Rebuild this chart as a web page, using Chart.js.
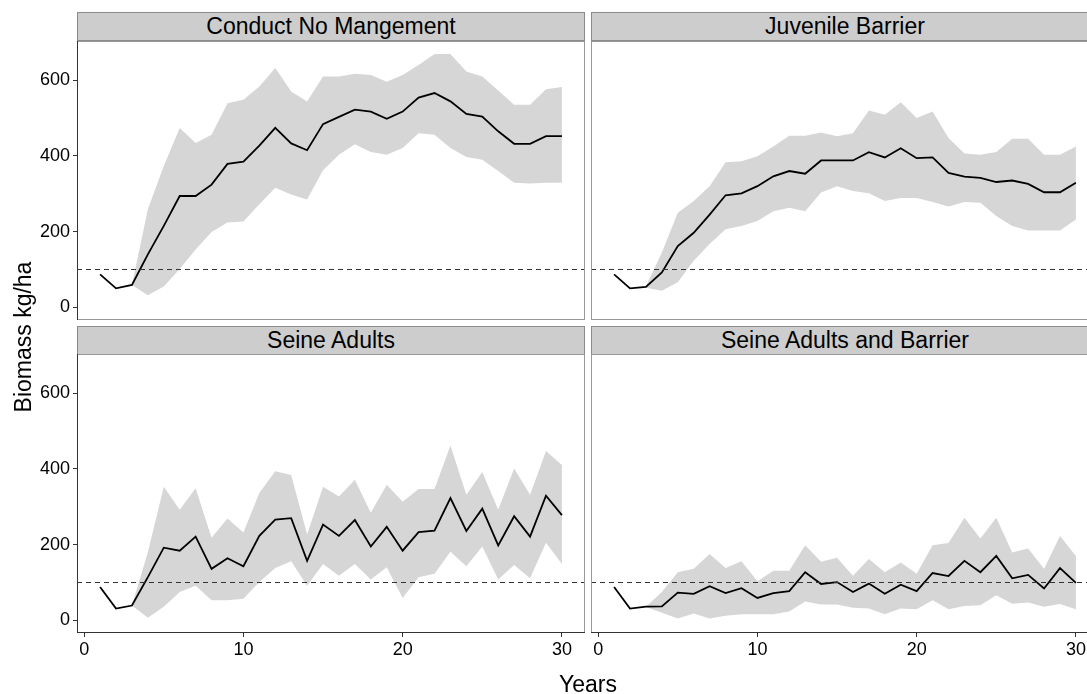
<!DOCTYPE html>
<html>
<head>
<meta charset="utf-8">
<script src="https://cdn.jsdelivr.net/npm/chart.js@4.4.1/dist/chart.umd.min.js"></script>
<style>
  html, body {
    margin: 0;
    padding: 0;
    width: 1087px;
    height: 694px;
    overflow: hidden;
    background: #fff;
    font-family: 'Liberation Sans', Arial, sans-serif;
  }
  .panel { position: absolute; }
  .strip {
    position: absolute;
    box-sizing: border-box;
    height: 29px;
    background: #cdcdcd;
    border: 1px solid #8a8a8a;
    color: #000;
    font-size: 23px;
    line-height: 27px;
    text-align: center;
    white-space: nowrap;
  }
  .axis-title {
    position: absolute;
    font-size: 23px;
    color: #000;
    text-align: center;
    white-space: nowrap;
  }
</style>
</head>
<body>
<div id="root"></div>
<div class="axis-title" style="left:488px; top:670px; width:200px; height:28px; line-height:28px;">Years</div>
<div class="axis-title" style="left:-127px; top:323px; width:300px; height:28px; line-height:28px; transform:rotate(-90deg);">Biomass kg/ha</div>

<script>
// years simulated
const years = [1, 2, 3, 4, 5, 6, 7, 8, 9, 10, 11, 12, 13, 14, 15,
  16, 17, 18, 19, 20, 21, 22, 23, 24, 25, 26, 27, 28, 29, 30];

const xTicks = [0, 10, 20, 30];
const yTicks = [0, 200, 400, 600];
const threshold = 100; // dashed reference line

const panelTitles = ['Conduct No Mangement', 'Juvenile Barrier', 'Seine Adults', 'Seine Adults and Barrier'];

// Conduct No Mangement
const noMgmtMean = [87, 50, 59, 140, 215, 294, 294, 324, 379, 385, 427, 474, 433, 415, 484,
  503, 522, 517, 498, 517, 554, 566, 544, 511, 504, 465, 432, 432, 452, 452];
const noMgmtLow = [null, null, 59, 32, 55, 101, 153, 199, 224, 227, 272, 316, 298, 285, 362,
  403, 431, 410, 403, 421, 460, 456, 421, 397, 390, 360, 329, 327, 329, 329];
const noMgmtHigh = [null, null, 59, 259, 373, 474, 434, 456, 539, 548, 583, 632, 570, 544, 610,
  610, 617, 614, 596, 614, 640, 669, 669, 623, 610, 573, 535, 535, 576, 582];

// Juvenile Barrier
const barrierMean = [87, 50, 54, 92, 162, 197, 245, 296, 301, 320, 346, 360, 353, 388, 388,
  388, 410, 396, 420, 394, 396, 355, 345, 342, 331, 335, 326, 304, 304, 329];
const barrierLow = [null, null, 52, 44, 66, 123, 167, 206, 215, 228, 254, 263, 254, 303, 320,
  307, 301, 281, 289, 289, 278, 266, 278, 276, 241, 215, 203, 203, 203, 232];
const barrierHigh = [null, null, 55, 145, 250, 281, 320, 383, 386, 399, 425, 453, 453, 462, 452,
  460, 520, 509, 542, 500, 517, 447, 406, 403, 410, 445, 445, 403, 403, 425];

// Seine Adults
const seineMean = [88, 31, 39, 114, 192, 184, 221, 136, 164, 143, 223, 266, 270, 157, 253,
  223, 265, 195, 247, 184, 233, 237, 323, 236, 295, 198, 275, 221, 329, 278];
const seineLow = [null, null, 39, 7, 36, 75, 91, 53, 53, 57, 101, 138, 156, 91, 149,
  118, 149, 108, 140, 59, 114, 123, 181, 143, 195, 108, 146, 111, 205, 149];
const seineHigh = [null, null, 39, 180, 353, 292, 349, 218, 269, 232, 336, 394, 384, 227, 353,
  327, 371, 284, 358, 313, 347, 347, 462, 332, 392, 292, 401, 332, 447, 410];

// Seine Adults and Barrier
const bothMean = [88, 31, 36, 37, 73, 70, 90, 72, 85, 59, 72, 77, 127, 96, 101,
  75, 97, 70, 94, 77, 125, 117, 157, 127, 170, 111, 120, 84, 138, 99];
const bothLow = [null, null, 35, 20, 5, 18, 5, 12, 16, 16, 16, 23, 50, 42, 42,
  33, 31, 16, 31, 29, 53, 29, 38, 40, 66, 44, 47, 36, 43, 29];
const bothHigh = [null, null, 36, 75, 127, 136, 175, 138, 156, 103, 131, 131, 198, 155, 165,
  118, 162, 127, 153, 123, 198, 204, 271, 216, 271, 179, 190, 136, 223, 170];

const FONT = "'Liberation Sans', Arial, sans-serif";
const ribbonColor = '#d6d6d6';

const panels = [
  { title: panelTitles[0], mean: noMgmtMean, low: noMgmtLow, high: noMgmtHigh, col: 0, row: 0 },
  { title: panelTitles[1], mean: barrierMean, low: barrierLow, high: barrierHigh, col: 1, row: 0 },
  { title: panelTitles[2], mean: seineMean, low: seineLow, high: seineHigh, col: 0, row: 1 },
  { title: panelTitles[3], mean: bothMean, low: bothLow, high: bothHigh, col: 1, row: 1 },
];

function toPoints(values) {
  return years.map((yr, i) => ({ x: yr, y: values[i] }));
}

// dashed line + panel frame, drawn over the data
const panelDecor = {
  id: 'panelDecor',
  afterDatasetsDraw(chart) {
    const { ctx, chartArea } = chart;
    const y = Math.round(chart.scales.y.getPixelForValue(threshold)) + 0.5;
    ctx.save();
    ctx.strokeStyle = '#333';
    ctx.lineWidth = 1;
    ctx.setLineDash([5, 4]);
    ctx.beginPath();
    ctx.moveTo(chartArea.left, y);
    ctx.lineTo(chartArea.right, y);
    ctx.stroke();
    ctx.restore();
  },
  afterDraw(chart, args, opts) {
    const { ctx, chartArea: a } = chart;
    ctx.save();
    ctx.lineWidth = 1;
    ctx.strokeStyle = '#999';
    ctx.strokeRect(a.left + 0.5, a.top + 0.5, a.right - a.left - 1, a.bottom - a.top - 1);
    ctx.strokeStyle = '#333';
    ctx.beginPath();
    if (opts.showY) {
      ctx.moveTo(a.left + 0.5, a.top);
      ctx.lineTo(a.left + 0.5, a.bottom);
    }
    if (opts.showX) {
      ctx.moveTo(a.left, a.bottom - 0.5);
      ctx.lineTo(a.right, a.bottom - 0.5);
    }
    ctx.stroke();
    ctx.restore();
  }
};

const root = document.getElementById('root');

panels.forEach(p => {
  const showY = p.col === 0;
  const showX = p.row === 1;

  // canvas placement so that plot areas land on the facet grid
  const left = p.col === 0 ? 0 : 587;
  const width = p.col === 0 ? 589 : 516;
  const top = p.row === 0 ? 39 : 352;
  const height = p.row === 0 ? 283 : 321;

  const strip = document.createElement('div');
  strip.className = 'strip';
  strip.style.left = (p.col === 0 ? 77 : 591) + 'px';
  strip.style.width = '508px';
  strip.style.top = (p.row === 0 ? 12 : 326) + 'px';
  strip.textContent = p.title;
  root.appendChild(strip);

  const wrap = document.createElement('div');
  wrap.className = 'panel';
  wrap.style.left = left + 'px';
  wrap.style.top = top + 'px';
  const canvas = document.createElement('canvas');
  canvas.width = width;
  canvas.height = height;
  canvas.style.width = width + 'px';
  canvas.style.height = height + 'px';
  wrap.appendChild(canvas);
  root.appendChild(wrap);

  new Chart(canvas, {
    type: 'line',
    data: {
      datasets: [
        {
          data: toPoints(p.low),
          borderColor: 'transparent',
          borderWidth: 0,
          pointRadius: 0,
          fill: false,
          order: 2,
        },
        {
          data: toPoints(p.high),
          borderColor: 'transparent',
          borderWidth: 0,
          pointRadius: 0,
          backgroundColor: ribbonColor,
          fill: '-1',
          order: 1,
        },
        {
          data: toPoints(p.mean),
          borderColor: '#000',
          borderWidth: 1.8,
          pointRadius: 0,
          fill: false,
          order: 0,
        },
      ],
    },
    options: {
      responsive: false,
      animation: false,
      events: [],
      layout: {
        padding: {
          left: p.col === 0 ? 0 : 4,
          right: 4,
          top: 2,
          bottom: p.row === 0 ? 2 : 0,
        },
      },
      plugins: {
        legend: { display: false },
        tooltip: { enabled: false },
        panelDecor: { showX, showY },
      },
      scales: {
        x: {
          type: 'linear',
          min: -0.45,
          max: 31.45,
          display: showX,
          afterBuildTicks: s => { s.ticks = xTicks.map(v => ({ value: v })); },
          afterFit: s => {
            s.height = showX ? 40 : 0;
            s.paddingLeft = 0;
            s.paddingRight = 0;
          },
          border: { display: false },
          grid: { drawOnChartArea: false, drawTicks: true, tickLength: 4, tickColor: '#333', tickWidth: 1 },
          ticks: { font: { family: FONT, size: 18 }, color: '#000', padding: 2, maxRotation: 0 },
        },
        y: {
          type: 'linear',
          min: -33.5,
          max: 703.5,
          display: showY,
          afterBuildTicks: s => { s.ticks = yTicks.map(v => ({ value: v })); },
          afterFit: s => {
            s.width = showY ? 77 : 0;
            s.paddingTop = 0;
            s.paddingBottom = 0;
          },
          border: { display: false },
          grid: { drawOnChartArea: false, drawTicks: true, tickLength: 4, tickColor: '#333', tickWidth: 1 },
          ticks: { font: { family: FONT, size: 18 }, color: '#000', padding: 3 },
        },
      },
    },
    plugins: [panelDecor],
  });
});
</script>
</body>
</html>
